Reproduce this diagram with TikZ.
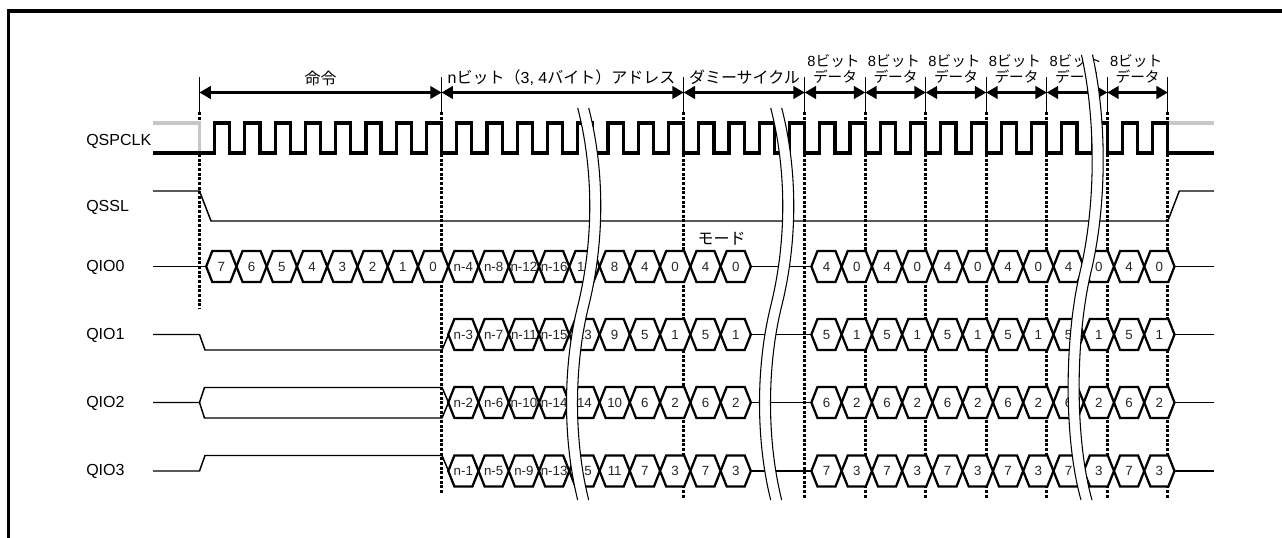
\documentclass[tikz,border=0pt]{standalone}
\usepackage{fontspec}
\setmainfont{Liberation Sans}
\newfontfamily\jpfont{Noto Sans CJK JP}
\usetikzlibrary{arrows.meta}
\definecolor{clkgray}{gray}{0.78}
\tikzset{
    sigline/.style={black, line width=1.1pt},
    clkline/.style={black, line width=2.4pt, line join=miter},
    hexcell/.style={black, fill=white, line width=1.7pt, line join=miter},
    gridtick/.style={black, line width=0.8pt},
    griddot/.style={black, line width=2pt, dash pattern=on 2.2pt off 1.3pt},
    spanarrow/.style={<->, black, line width=1.6pt},
    signame/.style={anchor=west, inner sep=0pt, font=\fontsize{12}{14}\selectfont},
    celltext/.style={inner sep=0pt, text=black!85, font=\fontsize{10}{12}\selectfont},
    headtext/.style={inner sep=0pt, font=\fontsize{12}{14}\selectfont},
    bytetext/.style={inner sep=0pt, font=\fontsize{11}{13}\selectfont}
}
\begin{document}
\begin{tikzpicture}[x=0.75pt, y=-0.75pt, >={Triangle[length=8.5pt, width=9.5pt]}]
    \useasboundingbox (0,0) rectangle (1282,538);
    % Frame
    \draw[black, line width=2.5pt] (8.6,538) -- (8.6,11) -- (1282,11);
    % Boundaries
    \foreach \k in {0,8,16,20,22,24,26,28,30,32} {
            \pgfmathsetmacro{\bx}{199.5+30.26*\k}
            \draw[gridtick] (\bx,77) -- (\bx,112);
        }
    \draw[griddot] (199.5,112) -- (199.5,309);
    \draw[griddot] (441.6,112) -- (441.6,494);
    \foreach \k in {16,20,22,24,26,28,30,32} {
            \pgfmathsetmacro{\bx}{199.5+30.26*\k}
            \draw[griddot] (\bx,112) -- (\bx,498);
        }
    % Spans
    \foreach \a/\b in {0/8, 8/16, 16/20, 20/22, 22/24, 24/26, 26/28, 28/30, 30/32} {
            \draw[spanarrow] ({199.5+30.26*\a},92.5) -- ({199.5+30.26*\b},92.5);
        }
    \node[headtext] (cmdtext) at (320.5,78.5) {\jpfont 命令};
    \node[headtext] (addrtext) at (561.5,77.5) {n\jpfont ビット（\rmfamily 3, 4\jpfont バイト）アドレス};
    \node[headtext] (dummytext) at (744.5,77.5) {\jpfont ダミーサイクル};
    \node[headtext] (modetext) at (721.5,239) {\jpfont モード};
    \foreach \i in {0,...,5} {
            \node[bytetext] (bitstext\i) at ({833.5+60.52*\i},61) {8\jpfont ビット};
            \node[bytetext] (datatext\i) at ({835+60.52*\i},77) {\jpfont データ};
        }
    % Clock
    \draw[clkgray, line width=2.4pt] (153,123) -- (199.5,123) -- (199.5,153);
    \draw[clkgray, line width=2.4pt] (1167.8,123) -- (1214,123);
    \draw[clkline] (153,153) foreach \k in {0,...,31} {
            -- ({214.6+30.26*\k},153) -- ({214.6+30.26*\k},123)
            -- ({229.76+30.26*\k},123) -- ({229.76+30.26*\k},153)
        } -- (1214,153);
    % Select
    \draw[sigline] (153,191) -- (199.5,191) -- (211,221) -- (1167.8,221) -- (1179.3,191) -- (1214,191);
    % Lines in front of the cells
    \draw[sigline] (153,266.5) -- (206,266.5);
    \draw[sigline] (153,334.5) -- (199.5,334.5) -- (205,350) -- (442,350) -- (448.5,334.5);
    \draw[sigline] (153,402.5) -- (199.5,402.5) -- (204.5,387.5) -- (442,387.5) -- (448.5,402.5);
    \draw[sigline] (199.5,402.5) -- (204.5,418) -- (442,418) -- (448.5,402.5);
    \draw[sigline] (153,471) -- (199.5,471) -- (205,455.5) -- (442,455.5) -- (448.5,471);
    \foreach \y in {266.5,334.5,402.5,471} {
            \draw[sigline] (752,\y) -- (811.5,\y);
            \draw[sigline] (1175,\y) -- (1214,\y);
        }
    % Cells
    \newcommand{\hexcellat}[3]{%
        \pgfmathsetmacro{\cx}{221.3+30.26*#1}
        \draw[hexcell] ({\cx-15.13},#2) -- ({\cx-9},#2-15.5) -- ({\cx+9},#2-15.5)
        -- ({\cx+15.13},#2) -- ({\cx+9},#2+15.5) -- ({\cx-9},#2+15.5) -- cycle;
        \node[celltext] at (\cx,#2) {#3};
    }
    \foreach \k/\l in {0/7, 1/6, 2/5, 3/4, 4/3, 5/2, 6/1, 7/0} {
            \hexcellat{\k}{266.5}{\l}
        }
    \foreach \k/\a/\b/\c/\d in {8/n-4/n-3/n-2/n-1, 9/n-8/n-7/n-6/n-5, 10/n-12/n-11/n-10/n-9, 11/n-16/n-15/n-14/n-13,
        12/12/13/14/15, 13/8/9/10/11, 14/4/5/6/7, 15/0/1/2/3, 16/4/5/6/7, 17/0/1/2/3} {
            \hexcellat{\k}{266.5}{\a}
            \hexcellat{\k}{334.5}{\b}
            \hexcellat{\k}{402.5}{\c}
            \hexcellat{\k}{471}{\d}
        }
    \foreach \k in {20,22,...,30} {
            \hexcellat{\k}{266.5}{4}
            \hexcellat{\k}{334.5}{5}
            \hexcellat{\k}{402.5}{6}
            \hexcellat{\k}{471}{7}
        }
    \foreach \k in {21,23,...,31} {
            \hexcellat{\k}{266.5}{0}
            \hexcellat{\k}{334.5}{1}
            \hexcellat{\k}{402.5}{2}
            \hexcellat{\k}{471}{3}
        }
    % Signal names
    \foreach \n/\y/\l in {clk/141/QSPCLK, ssl/207.5/QSSL, ioa/267.5/QIO0, iob/335.5/QIO1, ioc/403/QIO2, iod/471/QIO3} {
            \node[signame] (name\n) at (86,\y) {\l};
        }
    % Breaks
    \foreach \bx in {577.7,770.7} {
            \fill[white] (\bx,108) .. controls (\bx+16,170) and (\bx+16,240) .. (\bx+0.5,304)
            .. controls (\bx-15,365) and (\bx-15,440) .. (\bx,500)
            -- (\bx+11,500) .. controls (\bx-4,440) and (\bx-4,365) .. (\bx+11.5,304)
            .. controls (\bx+27,240) and (\bx+27,170) .. (\bx+11,108) -- cycle;
            \draw[sigline, line width=0.8pt] (\bx,108) .. controls (\bx+16,170) and (\bx+16,240) .. (\bx+0.5,304)
            .. controls (\bx-15,365) and (\bx-15,440) .. (\bx,500);
            \draw[sigline, line width=0.8pt] (\bx+11,108) .. controls (\bx+27,170) and (\bx+27,240) .. (\bx+11.5,304)
            .. controls (\bx-4,365) and (\bx-4,440) .. (\bx+11,500);
        }
    \fill[white] (1081.5,55) .. controls (1096,120) and (1096,205) .. (1080,272)
    .. controls (1064,340) and (1064,440) .. (1081,500)
    -- (1092,500) .. controls (1075,440) and (1075,340) .. (1091,272)
    .. controls (1107,205) and (1107,120) .. (1092.5,55) -- cycle;
    \draw[sigline, line width=0.8pt] (1081.5,55) .. controls (1096,120) and (1096,205) .. (1080,272)
    .. controls (1064,340) and (1064,440) .. (1081,500);
    \draw[sigline, line width=0.8pt] (1092.5,55) .. controls (1107,120) and (1107,205) .. (1091,272)
    .. controls (1075,340) and (1075,440) .. (1092,500);
\end{tikzpicture}
\end{document}
